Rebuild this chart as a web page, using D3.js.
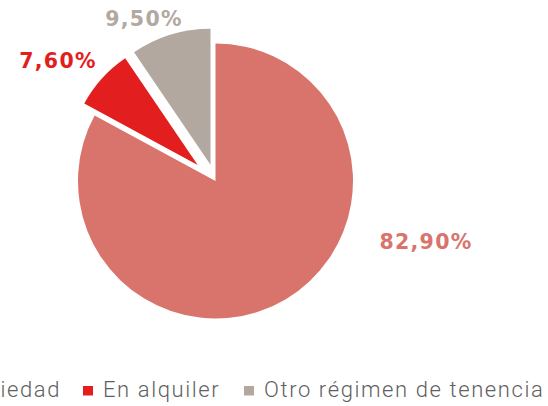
<!DOCTYPE html>
<html>
<head>
<meta charset="utf-8">
<script src="https://cdn.jsdelivr.net/npm/d3@7"></script>
<style>
  body { margin: 0; background: #fff; }
  svg { display: block; }
</style>
</head>
<body>
<svg></svg>
<script>
var categories = ["En propiedad", "En alquiler", "Otro régimen de tenencia"];
var values = [82.9, 7.6, 9.5];
var colors = ["#D9746C", "#E31E1E", "#B2A8A0"];

var svgWidth = 548;
var svgHeight = 406;

var svg = d3.select("svg")
    .attr("width", svgWidth)
    .attr("height", svgHeight);

var cx = 215.5, cy = 181;
// explode distance and radius per slice
var explode = [0, 24, 17];
var radii = [137.5, 129, 136];
// label anchors (x, baseline)
var labelPos = [[426, 249], [58, 68], [144, 26]];

var locale = d3.formatLocale({ decimal: ",", thousands: ".", grouping: [3], currency: ["", "€"] });
var fmt = locale.format(".2f");

var pie = d3.pie().sort(null).value(function(d) { return d; });
var arcs = pie(values);

var g = svg.append("g").attr("transform", "translate(" + cx + "," + cy + ")");

g.selectAll("path")
  .data(arcs)
  .enter()
  .append("path")
  .attr("fill", function(d, i) { return colors[i]; })
  .attr("d", function(d, i) {
    return d3.arc().innerRadius(0).outerRadius(radii[i])(d);
  })
  .attr("transform", function(d, i) {
    var a = (d.startAngle + d.endAngle) / 2;
    return "translate(" + [Math.sin(a) * explode[i], -Math.cos(a) * explode[i]] + ")";
  });

svg.selectAll("text.lbl")
  .data(arcs)
  .enter()
  .append("text")
  .attr("class", "lbl")
  .attr("x", function(d, i) { return labelPos[i][0]; })
  .attr("y", function(d, i) { return labelPos[i][1]; })
  .attr("text-anchor", "middle")
  .attr("fill", function(d, i) { return colors[i]; })
  .style("font-family", "'DejaVu Sans', sans-serif")
  .style("font-weight", "bold")
  .style("font-size", "20.5px")
  .style("letter-spacing", "1.3px")
  .text(function(d) { return fmt(d.data) + "%"; });

// legend: squares at fixed steps, text follows each square
var legendX = [null, 83, 244];
var legend = svg.append("g").attr("transform", "translate(0,396.5)");
var items = legend.selectAll("g")
  .data(categories)
  .enter()
  .append("g");

items.append("rect")
  .attr("y", -10.5)
  .attr("width", 10)
  .attr("height", 9.5)
  .attr("fill", function(d, i) { return colors[i]; });

items.append("text")
  .attr("x", 20)
  .attr("y", 0)
  .attr("fill", "#5f5f5f")
  .style("font-family", "Roboto, sans-serif")
  .style("font-weight", "300")
  .style("font-size", "22px")
  .style("letter-spacing", "1.6px")
  .text(function(d) { return d; });

// first item is pushed off the left edge so its text ends just before the next square
items.attr("transform", function(d, i) {
  var x = legendX[i];
  if (x === null) {
    var w = d3.select(this).select("text").node().getComputedTextLength();
    x = legendX[i + 1] - 22 - w - 20;
  }
  return "translate(" + x + ",0)";
});
</script>
</body>
</html>
